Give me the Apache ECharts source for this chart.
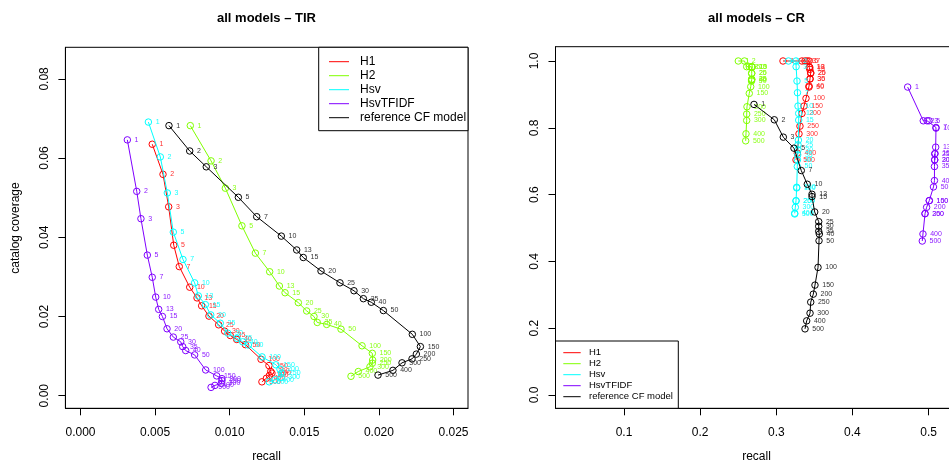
<!DOCTYPE html>
<html><head><meta charset="utf-8">
<script src="https://cdn.jsdelivr.net/npm/echarts@6/dist/echarts.min.js"></script>
<style>html,body{margin:0;padding:0;background:#fff}#c{width:949px;height:462px}</style>
</head><body><div id="c"></div>
<script>
// list lengths (point labels)
const N = [1,2,3,5,7,10,13,15,20,25,30,35,40,50,100,150,200,250,300,400,500];
const seriesNames = ['H1','H2','Hsv','HsvTFIDF','reference CF model'];
const seriesColors = ['#FF0000','#80FF00','#00FFFF','#8000FF','#000000'];
const labelColors = ['#FF3030','#8CFF1A','#1AFFFF','#8C1AFF','#333333'];

// ---- panel 1: all models - TIR ----
const tirH1Recall = [0.00481,0.00553,0.00591,0.00625,0.00662,0.00732,0.00781,0.00812,0.00861,0.00926,0.00966,0.01004,0.01047,0.01105,0.01210,0.01263,0.01275,0.01283,0.01266,0.01246,0.01216];
const tirH1Cov    = [0.0635,0.0559,0.0477,0.0380,0.0326,0.0274,0.0247,0.0227,0.0201,0.0179,0.0163,0.0152,0.0142,0.0129,0.0092,0.0076,0.0061,0.0057,0.0051,0.0044,0.0035];
const tirH2Recall = [0.00736,0.00875,0.00971,0.01082,0.01172,0.01268,0.01333,0.01371,0.01460,0.01516,0.01565,0.01587,0.01650,0.01746,0.01887,0.01956,0.01958,0.01956,0.01940,0.01862,0.01813];
const tirH2Cov    = [0.0682,0.0593,0.0524,0.0429,0.0360,0.0313,0.0277,0.0260,0.0235,0.0214,0.0200,0.0185,0.0180,0.0168,0.0126,0.0107,0.0090,0.0082,0.0073,0.0061,0.0049];
const tirHsvRecall = [0.00455,0.00535,0.00582,0.00622,0.00687,0.00765,0.00790,0.00837,0.00873,0.00937,0.00987,0.01049,0.01087,0.01125,0.01217,0.01310,0.01337,0.01348,0.01344,0.01304,0.01265];
const tirHsvCov    = [0.0691,0.0603,0.0512,0.0413,0.0344,0.0285,0.0252,0.0230,0.0204,0.0183,0.0158,0.0145,0.0136,0.0128,0.0098,0.0078,0.0067,0.0057,0.0046,0.0040,0.0035];
const tirTfRecall = [0.00314,0.00377,0.00405,0.00448,0.00481,0.00504,0.00524,0.00549,0.00580,0.00622,0.00672,0.00685,0.00705,0.00765,0.00839,0.00913,0.00948,0.00948,0.00944,0.00901,0.00875];
const tirTfCov    = [0.0646,0.0516,0.0447,0.0355,0.0299,0.0249,0.0218,0.0200,0.0169,0.0148,0.0136,0.0124,0.0114,0.0103,0.0065,0.0050,0.0043,0.0038,0.0031,0.0026,0.0021];
const tirRefRecall = [0.00593,0.00732,0.00843,0.01058,0.01181,0.01346,0.01449,0.01493,0.01612,0.01739,0.01833,0.01896,0.01949,0.02030,0.02224,0.02278,0.02251,0.02222,0.02155,0.02094,0.01994];
const tirRefCov    = [0.0682,0.0618,0.0578,0.0501,0.0452,0.0403,0.0368,0.0349,0.0315,0.0285,0.0265,0.0245,0.0236,0.0215,0.0155,0.0124,0.0105,0.0093,0.0083,0.0064,0.0052];

// ---- panel 2: all models - CR ----
const crH1Recall = [0.3088,0.3337,0.3377,0.3403,0.3430,0.3433,0.3440,0.3440,0.3452,0.3452,0.3443,0.3443,0.3430,0.3430,0.3390,0.3364,0.3337,0.3311,0.3298,0.3276,0.3259];
const crH1Cov    = [1.000,1.000,1.000,1.000,1.000,0.981,0.981,0.975,0.965,0.963,0.947,0.946,0.925,0.922,0.888,0.865,0.843,0.805,0.782,0.724,0.704];
const crH2Recall = [0.2501,0.2582,0.2611,0.2645,0.2677,0.2680,0.2680,0.2680,0.2677,0.2677,0.2677,0.2677,0.2675,0.2675,0.2664,0.2645,0.2615,0.2611,0.2611,0.2602,0.2598];
const crH2Cov    = [1.000,1.000,0.983,0.983,0.983,0.982,0.982,0.982,0.963,0.963,0.945,0.945,0.943,0.940,0.923,0.903,0.863,0.841,0.822,0.782,0.761];
const crHsvRecall = [0.3160,0.3259,0.3260,0.3272,0.3278,0.3285,0.3294,0.3294,0.3290,0.3285,0.3285,0.3281,0.3278,0.3276,0.3268,0.3268,0.3259,0.3259,0.3250,0.3242,0.3242];
const crHsvCov    = [1.000,1.000,0.983,0.940,0.905,0.865,0.843,0.823,0.763,0.749,0.734,0.719,0.704,0.684,0.622,0.620,0.582,0.581,0.562,0.544,0.542];
const crTfRecall = [0.4725,0.4930,0.4980,0.5005,0.5097,0.5097,0.5093,0.5085,0.5080,0.5080,0.5080,0.5077,0.5077,0.5064,0.5009,0.5009,0.4974,0.4953,0.4953,0.4926,0.4917];
const crTfCov    = [0.922,0.821,0.821,0.821,0.801,0.799,0.742,0.723,0.704,0.722,0.704,0.684,0.642,0.623,0.582,0.582,0.562,0.543,0.543,0.482,0.461];
const crRefRecall = [0.2707,0.2974,0.3092,0.3232,0.3328,0.3407,0.3469,0.3469,0.3504,0.3557,0.3557,0.3557,0.3565,0.3561,0.3548,0.3508,0.3486,0.3452,0.3443,0.3399,0.3377];
const crRefCov    = [0.870,0.824,0.772,0.739,0.672,0.631,0.601,0.594,0.548,0.519,0.505,0.490,0.482,0.462,0.382,0.329,0.302,0.278,0.245,0.222,0.198];

// tick positions shown on each axis
const tirXTicks = [0, 0.005, 0.010, 0.015, 0.020, 0.025];
const tirYTicks = [0, 0.02, 0.04, 0.06, 0.08];
const crXTicks  = [0.1, 0.2, 0.3, 0.4, 0.5];
const crYTicks  = [0, 0.2, 0.4, 0.6, 0.8, 1.0];
// plotting ranges (data limits extended by 4% on each side, as in the original)
const tirXRange = [-0.001012, 0.025972];
const tirYRange = [-0.003182, 0.08798];
const crXRange  = [0.010046, 0.53874];
const crYRange  = [-0.03982, 1.04281];

const tirSets = [[tirH1Recall,tirH1Cov],[tirH2Recall,tirH2Cov],[tirHsvRecall,tirHsvCov],[tirTfRecall,tirTfCov],[tirRefRecall,tirRefCov]];
const crSets  = [[crH1Recall,crH1Cov],[crH2Recall,crH2Cov],[crHsvRecall,crHsvCov],[crTfRecall,crTfCov],[crRefRecall,crRefCov]];

const FONT = '"Liberation Sans", Arial, Helvetica, sans-serif';

const gridBoxes = [
  { left: 65.4, top: 47.3, width: 402.6, height: 361 },
  { left: 555.5, top: 46.7, width: 402.6, height: 361.6 }
];
const ranges = [[tirXRange, tirYRange], [crXRange, crYRange]];
const TICK_PX = 7;

function mkSeries(sets, axisIdx) {
  return sets.map((s, i) => ({
    name: seriesNames[i] + (axisIdx ? ' (CR)' : ' (TIR)'),
    type: 'line',
    xAxisIndex: axisIdx, yAxisIndex: axisIdx,
    clip: false,
    data: s[0].map((x, k) => [x, s[1][k], N[k]]),
    symbol: 'circle', symbolSize: 6.5,
    itemStyle: { color: 'rgba(0,0,0,0)', borderColor: seriesColors[i], borderWidth: 1 },
    lineStyle: { color: seriesColors[i], width: 1 },
    emphasis: { disabled: true },
    label: {
      show: true, position: 'right', distance: 3.5,
      formatter: p => String(p.value[2]),
      color: labelColors[i], fontSize: 7, fontFamily: FONT
    },
    z: 2 + i
  }));
}

// outward axis ticks, drawn through the axes' own scales
function mkTickSeries(idx, xt, yt) {
  const g = gridBoxes[idx], xr = ranges[idx][0], yr = ranges[idx][1];
  const dy = TICK_PX / g.height * (yr[1] - yr[0]);
  const dx = TICK_PX / g.width * (xr[1] - xr[0]);
  const data = [];
  xt.forEach(v => data.push({ coords: [[v, yr[0]], [v, yr[0] - dy]] }));
  yt.forEach(v => data.push({ coords: [[xr[0], v], [xr[0] - dx, v]] }));
  return {
    type: 'lines', coordinateSystem: 'cartesian2d',
    xAxisIndex: idx, yAxisIndex: idx,
    clip: false, silent: true, polyline: false,
    effect: { show: false },
    lineStyle: { color: '#000', width: 1, opacity: 1, curveness: 0 },
    emphasis: { disabled: true },
    data: data, z: 10
  };
}

function mkAxis(range, ticks, gridIndex, fmtDigits, isY) {
  return {
    type: 'value', gridIndex: gridIndex,
    min: range[0], max: range[1],
    splitLine: { show: false },
    axisLine: { show: true, onZero: false, lineStyle: { color: '#000', width: 1 } },
    axisTick: { show: false },
    axisLabel: {
      show: true, color: '#000', fontSize: 12, fontFamily: FONT,
      customValues: ticks,
      rotate: isY ? 90 : 0, margin: isY ? 15 : 18.5,
      formatter: v => Number(v).toFixed(fmtDigits)
    }
  };
}

const graphic = [];
gridBoxes.forEach(g => graphic.push({ type: 'rect', shape: { x: g.left, y: g.top, width: g.width, height: g.height },
  style: { fill: 'none', stroke: '#000', lineWidth: 1 }, z: 1 }));
function txt(t, x, y, font, rot) {
  return { type: 'text', x: x, y: y, rotation: rot || 0, z: 20,
    style: { text: t, font: font, fill: '#000', textAlign: 'center', textVerticalAlign: 'middle', align: 'center', verticalAlign: 'middle' } };
}
graphic.push(txt('all models – TIR', 266.5, 18, 'bold 13px ' + FONT));
graphic.push(txt('all models – CR', 756.5, 18, 'bold 13px ' + FONT));
graphic.push(txt('recall', 266.5, 457, '12px ' + FONT));
graphic.push(txt('recall', 756.5, 457, '12px ' + FONT));
graphic.push(txt('catalog coverage', 16, 228, '12px ' + FONT, Math.PI / 2));
function legend(x0, y0, w, h, lx1, lx2, tx, yc, dy, fs) {
  graphic.push({ type: 'rect', shape: { x: x0, y: y0, width: w, height: h }, style: { fill: '#fff', stroke: '#000', lineWidth: 1 }, z: 30 });
  seriesNames.forEach((n, i) => {
    const y = yc + i * dy;
    graphic.push({ type: 'line', shape: { x1: lx1, y1: y, x2: lx2, y2: y }, style: { stroke: seriesColors[i], lineWidth: 1 }, z: 31 });
    graphic.push({ type: 'text', x: tx, y: y, z: 31,
      style: { text: n, font: fs + 'px ' + FONT, fill: '#000', textAlign: 'left', textVerticalAlign: 'middle', align: 'left', verticalAlign: 'middle' } });
  });
}
legend(318.7, 47.3, 149.3, 83.4, 329, 349, 360, 61.7, 14, 12);
legend(555.5, 341, 122.8, 67.3, 563.3, 580.7, 589, 352.7, 11, 9.5);

const option = {
  animation: false,
  backgroundColor: '#fff',
  grid: gridBoxes.map(g => Object.assign({ containLabel: false, outerBoundsMode: 'none' }, g)),
  xAxis: [ mkAxis(tirXRange, tirXTicks, 0, 3, false), mkAxis(crXRange, crXTicks, 1, 1, false) ],
  yAxis: [ mkAxis(tirYRange, tirYTicks, 0, 2, true), mkAxis(crYRange, crYTicks, 1, 1, true) ],
  series: mkSeries(tirSets, 0).concat(mkSeries(crSets, 1)).concat([
    mkTickSeries(0, tirXTicks, tirYTicks), mkTickSeries(1, crXTicks, crYTicks)
  ]),
  graphic: graphic
};
const chart = echarts.init(document.getElementById('c'), null, { renderer: 'canvas' });
chart.setOption(option);
</script></body></html>
